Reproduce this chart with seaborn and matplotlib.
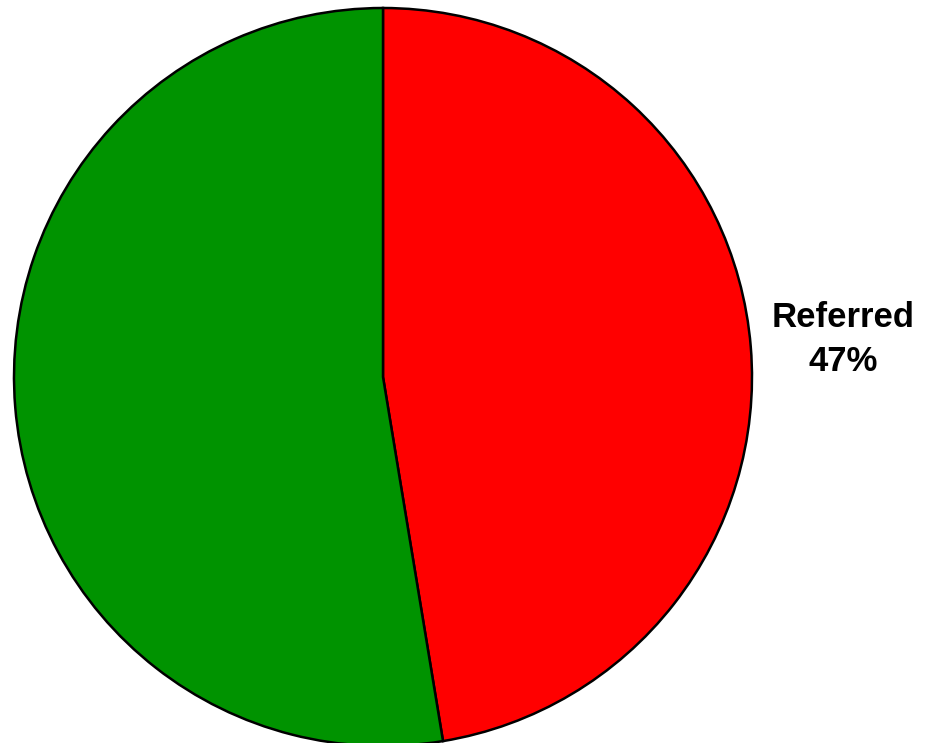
import matplotlib
matplotlib.use("Agg")
import matplotlib.pyplot as plt
import seaborn as sns

categories = ["Referred", "Not Referred"]
values = [47.4, 52.6]
colors = ["#FF0000", "#009300"]
show_label = [True, False]

sns.set_theme(style="white")
plt.rcParams['font.family'] = ['Liberation Sans', 'DejaVu Sans']

fig = plt.figure(figsize=(9.25, 7.43), dpi=100)
ax = fig.add_axes([0, 0, 1, 1])

labels = [f"{c}\n{round(v)}%" if s else "" for c, v, s in zip(categories, values, show_label)]
wedges, texts = ax.pie(values, colors=colors, startangle=90, counterclock=False,
                       labels=labels, labeldistance=1.25,
                       wedgeprops=dict(edgecolor="black", linewidth=1.8),
                       textprops=dict(fontsize=25, fontweight="bold", color="black",
                                      linespacing=1.4))
for t in texts:
    t.set_ha("center")
    t.set_va("center")

cx, cy, r = 383.0, 377.0, 369.0
W, H = 925.0, 743.0
ax.set_xlim(-cx / r, (W - cx) / r)
ax.set_ylim(-(H - cy) / r, cy / r)
ax.set_aspect("auto")
ax.axis("off")

fig.savefig("out.png", dpi=100)
